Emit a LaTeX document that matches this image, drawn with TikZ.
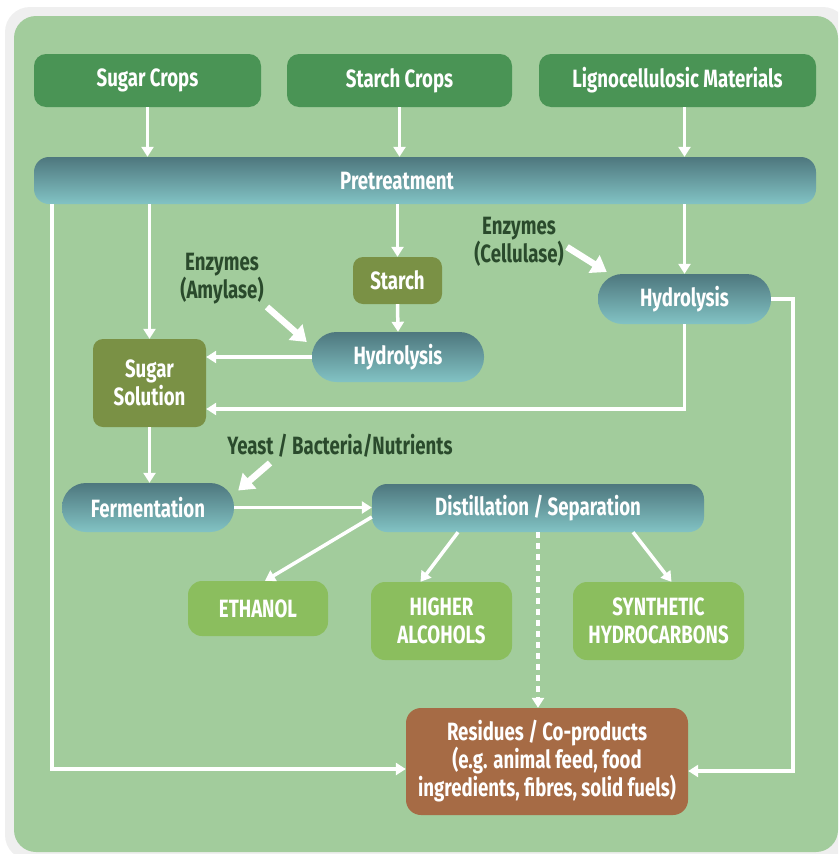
\documentclass[tikz,border=0pt]{standalone}
\usepackage{fontspec}
\setmainfont{Fira Sans}[FakeStretch=0.745]
\usetikzlibrary{arrows.meta,calc}
\definecolor{bggreen}{HTML}{A2CC9C}
\definecolor{framegray}{HTML}{EFEFEF}
\definecolor{topgreen}{HTML}{4A9455}
\definecolor{olive}{HTML}{7A9145}
\definecolor{prodgreen}{HTML}{8BBE5E}
\definecolor{brown}{HTML}{A66B45}
\definecolor{gradtop}{HTML}{4E777E}
\definecolor{gradbot}{HTML}{82C3C4}
\definecolor{labelgreen}{HTML}{2A4A2C}
\tikzset{
  base/.style={inner sep=0pt, text=white, font=\fontsize{25}{28}\selectfont\bfseries, align=center},
  topbox/.style={base, fill=topgreen, rounded corners=12pt, minimum height=53pt},
  olivebox/.style={base, fill=olive, rounded corners=10pt},
  prodbox/.style={base, fill=prodgreen, rounded corners=14pt},
  resbox/.style={base, fill=brown, rounded corners=15pt, minimum width=282pt, minimum height=107pt},
  gradbox/.style={base, top color=gradtop, bottom color=gradbot, draw=none},
  pill/.style={gradbox, rounded corners=24.5pt, minimum height=50pt},
  lbl/.style={inner sep=0pt, text=labelgreen, font=\fontsize{25}{28}\selectfont\bfseries, align=center},
  arr/.style={draw=white, line width=3.5pt, -{Triangle[width=12pt,length=10pt]}},
  dasharr/.style={arr, dash pattern=on 6pt off 5pt},
  thickarr/.style={draw=white, line width=6.5pt, -{Triangle[width=20pt,length=15pt]}}
}
\begin{document}
\begin{tikzpicture}[x=1pt,y=-1pt]
\useasboundingbox (0,0) rectangle (838,854);
\clip (0,0) rectangle (838,854);
\fill[framegray, rounded corners=25pt] (5,7) rectangle (848,860);
\fill[bggreen, rounded corners=22pt] (14,16) rectangle (838,852);

% top boxes
\node[topbox, minimum width=227pt] (sc) at (147.5,80.5) {Sugar Crops};
\node[topbox, minimum width=225pt] (stc) at (399.5,80.5) {Starch Crops};
\node[topbox, minimum width=277pt] (lm) at (677.5,80.5) {Lignocellulosic Materials};

% pretreatment
\node[gradbox, rounded corners=15pt, minimum width=782pt, minimum height=47pt] (pre) at (425,180.5) {};
\node[base] (pretxt) at (397,181) {Pretreatment};

\node[olivebox, minimum width=89pt, minimum height=47pt] (starch) at (397.5,280.5) {Starch};
\node[pill, minimum width=172pt] (hy1) at (398,357) {Hydrolysis};
\node[olivebox, minimum width=113pt, minimum height=88pt] (sol) at (149.5,383) {Sugar\\Solution};
\node[pill, minimum width=173pt] (hy2) at (684.5,299) {Hydrolysis};
\node[pill, minimum width=172pt, minimum height=49pt, rounded corners=24pt] (ferm) at (148,507.5) {Fermentation};
\node[gradbox, rounded corners=15pt, minimum width=332pt, minimum height=48pt] (dist) at (538,508) {Distillation / Separation};
\node[prodbox, minimum width=140pt, minimum height=55pt] (eth) at (258,608.5) {ETHANOL};
\node[prodbox, minimum width=141pt, minimum height=78pt] (ha) at (441.5,621) {HIGHER\\ALCOHOLS};
\node[prodbox, minimum width=171pt, minimum height=78pt] (syn) at (658.5,621) {SYNTHETIC\\HYDROCARBONS};
\node[resbox] (res) at (547,761.5) {Residues / Co-products\\(e.g. animal feed, food\\ingredients, fibres, solid fuels)};

% labels
\node[lbl] (amyl) at (222,279) {Enzymes\\(Amylase)};
\node[lbl] (cell) at (519,242) {Enzymes\\(Cellulase)};
\node[lbl] (yeast) at (340,446) {Yeast / Bacteria/Nutrients};

% helper coordinates
\coordinate (lc) at (52,769);
\coordinate (rc) at (793,771);
\coordinate (a1) at (267,307);
\coordinate (a2) at (567,247);
\coordinate (a3) at (270,463);

% connectors
\draw[arr] (sc.south) -- (pre.north -| sc.south);
\draw[arr] (stc.south) -- (pre.north -| stc.south);
\draw[arr] (lm.south -| hy2.north) -- (pre.north -| hy2.north);
\draw[arr] (pre.south -| sol.north) -- (sol.north);
\draw[arr] (pre.south -| starch.north) -- (starch.north);
\draw[arr] (starch.south) -- (hy1.north);
\draw[arr] (pre.south -| hy2.north) -- (hy2.north);
\draw[arr] (hy1.west) -- (hy1.west -| sol.east);
\draw[arr] (hy2.south) |- ($(sol.east)+(0,26)$);
\draw[arr] (hy2.east) -| (rc) -- (rc -| res.east);
\draw[arr] (pre.south -| lc) -- (lc) -- (lc -| res.west);
\draw[arr] (sol.south) -- (sol.south |- ferm.north);
\draw[arr] (ferm.east) -- (ferm.east -| dist.west);
\draw[arr] ($(dist.west)+(0,9)$) -- ($(eth.north)+(7,0)$);
\draw[arr] ($(dist.south)+(-80,0)$) -- ($(ha.north)+(-21,0)$);
\draw[arr] ($(dist.south)+(95,0)$) -- ($(syn.north)+(13,0)$);
\draw[dasharr] (dist.south) -- (dist.south |- res.north);
\draw[thickarr] (a1) -- ($(hy1.west)+(-5,-15)$);
\draw[thickarr] (a2) -- ($(hy2.west)+(9,-27)$);
\draw[thickarr] (a3) -- ($(ferm.east)+(4,-17)$);
\end{tikzpicture}
\end{document}
